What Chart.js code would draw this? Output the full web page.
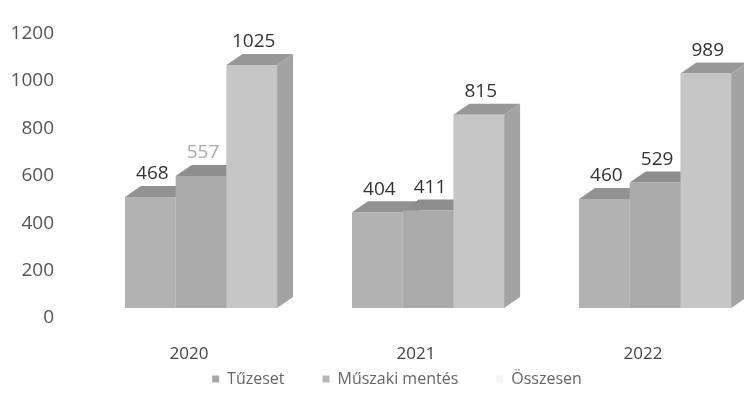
<!DOCTYPE html>
<html>
<head>
<meta charset="utf-8">
<script src="https://cdn.jsdelivr.net/npm/chart.js@4.4.1/dist/chart.umd.min.js"></script>
<style>
  html, body { margin: 0; padding: 0; background: #fff; overflow: hidden; }
  /* canvas runs past the right edge so the legend centre lands where the original has it */
  #wrap { position: relative; width: 794px; height: 412px; }
</style>
</head>
<body>
<div id="wrap"><canvas id="chart"></canvas></div>
<script>
const years = ['2020', '2021', '2022'];
const tuzeset = [468, 404, 460];
const muszaki = [557, 411, 529];
const osszesen = [1025, 815, 989];
const yTicks = [0, 200, 400, 600, 800, 1000, 1200];

const seriesNames = ['Tűzeset', 'Műszaki mentés', 'Összesen'];
const frontColors = ['#b2b2b2', '#aaaaaa', '#c6c6c6'];
const topColors = ['#929292', '#8e8e8e', '#989898'];
const sideColors = ['#9c9c9c', '#9a9a9a', '#a3a3a3'];
const legendColors = ['#a8a8a8', '#b8b8b8', '#f6f6f6'];

// fake depth of the 3d bars
const DX = 16, DY = -11;

const toPoints = (arr) => arr.map((v, i) => ({ x: i, y: v }));

const bars3d = {
  id: 'bars3d',
  beforeDatasetsDraw(chart) {
    const ctx = chart.ctx;
    ctx.save();
    for (let i = 0; i < years.length; i++) {
      chart.data.datasets.forEach((ds, d) => {
        const bar = chart.getDatasetMeta(d).data[i];
        const l = bar.x - bar.width / 2, r = bar.x + bar.width / 2;
        const t = bar.y, b = bar.base;
        // side
        ctx.fillStyle = sideColors[d];
        ctx.beginPath();
        ctx.moveTo(r, t);
        ctx.lineTo(r + DX, t + DY);
        ctx.lineTo(r + DX, b + DY);
        ctx.lineTo(r, b);
        ctx.closePath();
        ctx.fill();
        // top
        ctx.fillStyle = topColors[d];
        ctx.beginPath();
        ctx.moveTo(l, t);
        ctx.lineTo(l + DX, t + DY);
        ctx.lineTo(r + DX, t + DY);
        ctx.lineTo(r, t);
        ctx.closePath();
        ctx.fill();
      });
    }
    ctx.restore();
  },
  afterDatasetsDraw(chart) {
    const ctx = chart.ctx;
    ctx.save();
    ctx.font = '19px "Open Sans"';
    ctx.textAlign = 'center';
    ctx.textBaseline = 'middle';
    chart.data.datasets.forEach((ds, d) => {
      chart.getDatasetMeta(d).data.forEach((bar, i) => {
        // the 557 label is faded in the original
        ctx.fillStyle = (d === 1 && i === 0) ? '#a9a9a9' : '#333333';
        ctx.fillText(String(ds.data[i].y), bar.x + 2, bar.y - 23);
      });
    });
    ctx.restore();
  }
};

const chart = new Chart(document.getElementById('chart'), {
  type: 'bar',
  data: {
    datasets: [
      { label: seriesNames[0], data: toPoints(tuzeset), backgroundColor: frontColors[0] },
      { label: seriesNames[1], data: toPoints(muszaki), backgroundColor: frontColors[1] },
      { label: seriesNames[2], data: toPoints(osszesen), backgroundColor: frontColors[2] },
    ],
  },
  options: {
    responsive: true,
    maintainAspectRatio: false,
    animation: false,
    layout: { padding: { left: 0, top: 15, right: 0, bottom: 15 } },
    datasets: { bar: { categoryPercentage: 0.67, barPercentage: 1.0 } },
    plugins: {
      tooltip: { enabled: false },
      legend: {
        position: 'bottom',
        labels: {
          boxWidth: 7,
          boxHeight: 7,
          padding: 38,
          color: '#666',
          font: { family: 'Open Sans', size: 16 },
          generateLabels: () => seriesNames.map((name, i) => ({
            text: name,
            fillStyle: legendColors[i],
            strokeStyle: legendColors[i],
            lineWidth: 0,
            fontColor: '#666',
            datasetIndex: i,
          })),
        },
      },
    },
    scales: {
      x: {
        type: 'linear',
        offset: false,
        min: -0.5947,
        max: 2.612,
        grid: { display: false, drawTicks: false },
        border: { display: false },
        afterBuildTicks: (axis) => { axis.ticks = years.map((_, i) => ({ value: i })); },
        afterFit: (axis) => { axis.height = 25; },
        ticks: {
          // mirrored so the labels are not clipped to the short axis box
          mirror: true,
          padding: -56,
          labelOffset: -12,
          color: '#444',
          font: { family: 'Open Sans', size: 17 },
          callback: (v) => years[v],
        },
      },
      y: {
        min: 0,
        max: 1200,
        grid: { display: false, drawTicks: false },
        border: { display: false },
        afterBuildTicks: (axis) => { axis.ticks = yTicks.map((v) => ({ value: v })); },
        afterFit: (axis) => { axis.width = 66; },
        ticks: {
          padding: 12,
          labelOffset: 10,
          color: '#555',
          font: { family: 'Open Sans', size: 19 },
          callback: (v) => String(v),
        },
      },
    },
  },
  plugins: [bars3d],
});
</script>
</body>
</html>
